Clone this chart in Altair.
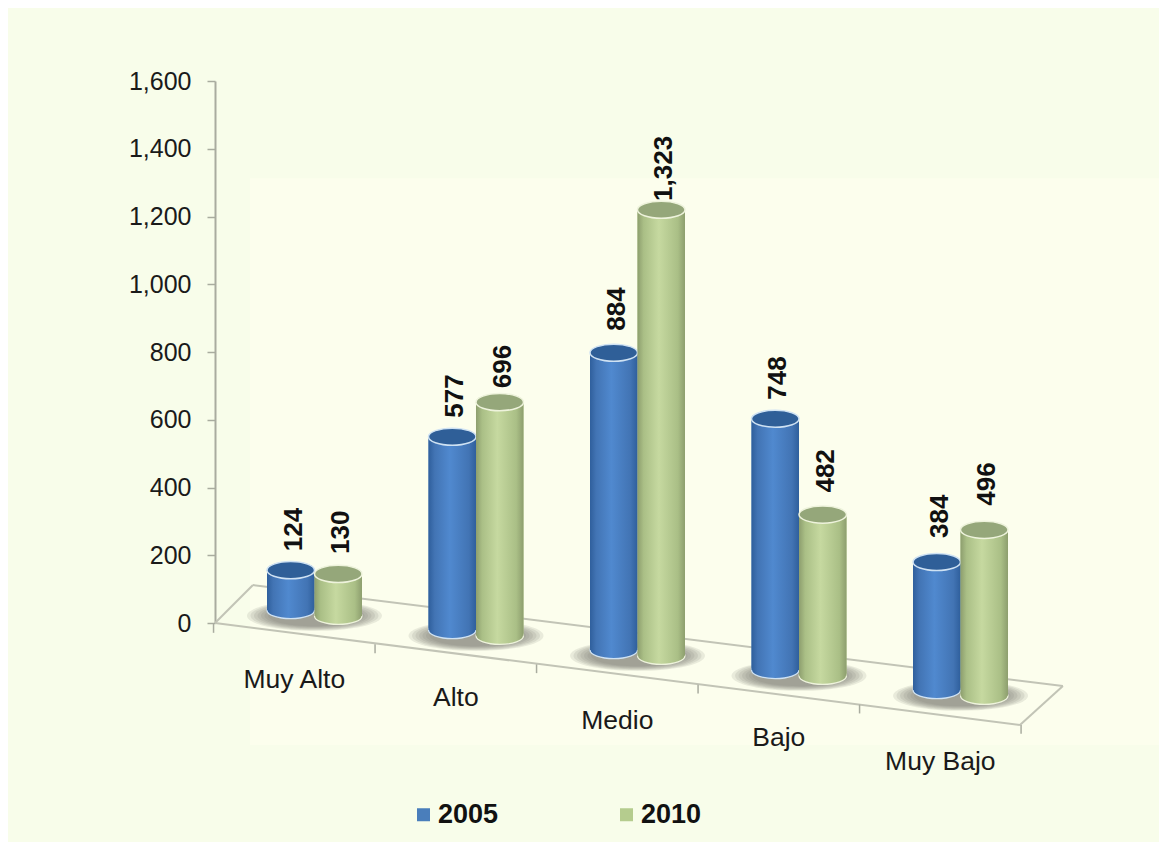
import altair as alt
import pandas as pd

categories = ["Muy Alto", "Alto", "Medio", "Bajo", "Muy Bajo"]
values_2005 = [124, 577, 884, 748, 384]
values_2010 = [130, 696, 1323, 482, 496]
ticks = [0, 200, 400, 600, 800, 1000, 1200, 1400, 1600]

# level of the perspective floor under each cylinder, in axis units
floor_2005 = [38, -21, -80, -139, -198]
floor_2010 = [21, -38, -97, -156, -215]
label_gap_2005 = [56, 56, 65, 56, 71]
label_gap_2010 = [59, 41, 26, 65, 71]
cat_level = [-168, -221, -289, -339, -410]

BAR = 0.294
TOP_DROP = 6  # the cap sits a little below the top of the value on the foreshortened cylinder
ELLIPSE = "M-1,0 A1,0.36 0 1,1 1,0 A1,0.36 0 1,1 -1,0 Z"
BLOB = "M-1,0 A1,0.225 0 1,1 1,0 A1,0.225 0 1,1 -1,0 Z"

rows = []
for i, c in enumerate(categories):
    for s, v, f, g, x0 in (("2005", values_2005[i], floor_2005[i], label_gap_2005[i], i - BAR),
                           ("2010", values_2010[i], floor_2010[i], label_gap_2010[i], i)):
        top = f + v - TOP_DROP
        rows.append(dict(cat=c, series=s, value=v, base=f, top=top, label_y=top + g,
                         x0=x0, x1=x0 + BAR, xc=x0 + BAR / 2))
df = pd.DataFrame(rows)
d05, d10 = df[df.series == "2005"], df[df.series == "2010"]

shadow = pd.DataFrame({"x": list(range(5)),
                       "y": [(a + b) / 2 - 8 for a, b in zip(floor_2005, floor_2010)]})
cats = pd.DataFrame({"cat": categories, "x": [i - 0.125 for i in range(5)], "y": cat_level})

floor_seg = pd.DataFrame({
    "x": [-0.616, -0.381, -0.616, 4.368],
    "x2": [4.368, 4.634, -0.381, 4.634],
    "y": [0, 112, 0, -301],
    "y2": [-301, -186, 112, -186],
})
floor_ticks = pd.DataFrame({"x": [-0.625 + k for k in range(6)],
                            "y": [-3, -63, -122, -182, -241, -301]})
floor_ticks["y2"] = floor_ticks["y"] - 26
panel = pd.DataFrame({"x": [-0.40], "x2": [5.229], "y": [1313], "y2": [-360]})

X = alt.Scale(domain=[-0.616, 5.229], nice=False, zero=False)
Y = alt.Scale(domain=[0, 1600], nice=False, zero=False)
AX = alt.Axis(values=ticks, format=",d", title=None, grid=False, domainColor="#a9ac9f", domainWidth=2,
              tickColor="#a9ac9f", tickWidth=1.5, tickSize=8, labelFontSize=25, labelFont="Liberation Sans",
              labelColor="#1a1a1a", labelPadding=16)
x = lambda f: alt.X(f, type="quantitative", scale=X, axis=None)
y = lambda f: alt.Y(f, type="quantitative", scale=Y, axis=AX)


def grad(a, b, c):
    return alt.Gradient(gradient="linear", x1=0, x2=1, y1=0, y2=0, stops=[
        alt.GradientStop(offset=0, color=a),
        alt.GradientStop(offset=0.13, color=b),
        alt.GradientStop(offset=0.45, color=c),
        alt.GradientStop(offset=0.85, color=b),
        alt.GradientStop(offset=1, color=a),
    ])


G05 = grad("#2f5f9c", "#4274b4", "#5089cf")
G10 = grad("#8d9e6e", "#aabf86", "#c6d9a0")

panel_layer = alt.Chart(panel).mark_rect(color="#fcfeed").encode(x=x("x"), x2="x2", y=y("y"), y2="y2")
floor_lines = alt.Chart(floor_seg).mark_rule(color="#c2c4b6", strokeWidth=2).encode(
    x=x("x"), x2="x2", y=y("y"), y2="y2")
floor_tk = alt.Chart(floor_ticks).mark_rule(color="#a9ac9f", strokeWidth=1.5).encode(
    x=x("x"), y=y("y"), y2="y2")

shadows = []
for w in (135, 128, 121, 114, 107, 100, 93):
    shadows.append(alt.Chart(shadow).mark_point(shape=BLOB, size=w * w, filled=True, color="#6f6f64",
                                                opacity=0.13).encode(x=x("x"), y=y("y")))

labels = alt.Chart(df).mark_text(angle=270, align="left", baseline="middle", fontSize=26, fontWeight="bold",
                                 font="Liberation Sans", color="#111111", dy=3).encode(
    x=x("xc"), y=y("label_y"), text=alt.Text("value:Q", format=",d"))

cat_labels = alt.Chart(cats).mark_text(align="center", baseline="middle", fontSize=26.5,
                                       font="Liberation Sans", color="#1a1a1a").encode(
    x=x("x"), y=y("y"), text="cat:N")

legend_bars = alt.Chart(df).mark_bar().encode(
    x=x("x0"), x2="x1", y=y("top"), y2="base",
    color=alt.Color("series:N", scale=alt.Scale(domain=["2005", "2010"], range=["#4a7ebb", "#b5cc8e"]),
                    legend=alt.Legend(title=None, orient="none", legendX=195, legendY=720, direction="horizontal",
                                      symbolType="square", symbolSize=169, symbolStrokeWidth=0,
                                      labelFontSize=27, labelFontWeight="bold", labelFont="Liberation Sans",
                                      labelColor="#111111", labelOffset=1, columnPadding=114)),
)

layers = [panel_layer, floor_lines, floor_tk] + shadows + [labels, cat_labels, legend_bars]
for d, g, rim, topc in ((d05, G05, "#cfe2f3", "#2f5f98"), (d10, G10, "#eef3dc", "#95a77a")):
    layers.append(alt.Chart(d).mark_point(shape=ELLIPSE, size=47.5 ** 2, filled=True, fill=g, stroke=rim,
                                          strokeWidth=1.2, opacity=1).encode(x=x("xc"), y=y("base")))
    layers.append(alt.Chart(d).mark_bar(color=g).encode(x=x("x0"), x2="x1", y=y("top"), y2="base"))
    layers.append(alt.Chart(d).mark_point(shape=ELLIPSE, size=47.5 ** 2, filled=True, fill=topc, stroke=rim,
                                          strokeWidth=1.5, opacity=1).encode(x=x("xc"), y=y("top")))

chart = alt.layer(*layers).properties(
    width=944, height=542, background="#f8fdea",
    padding={"left": 207, "top": 73, "right": 0, "bottom": 219},
    autosize=alt.AutoSizeParams(type="none"),
).configure_view(stroke=None)

chart.save("out.html", embed_options={"renderer": "svg", "actions": False})
